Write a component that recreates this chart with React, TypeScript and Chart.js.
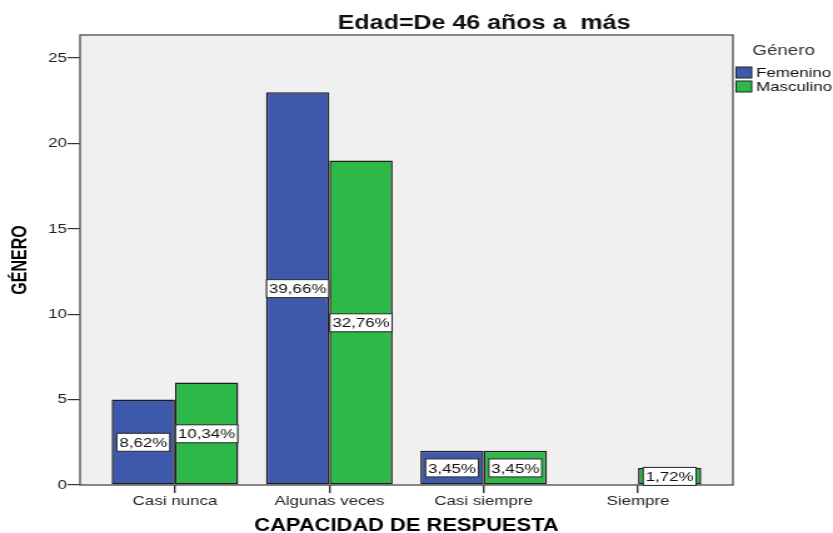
import React, { useEffect, useRef } from "react";
import { Chart, registerables } from "chart.js";

Chart.register(...registerables);

// ---- data ----
const categories = ["Casi nunca", "Algunas veces", "Casi siempre", "Siempre"];
const seriesNames = ["Femenino", "Masculino"];
const femenino = [5, 23, 2, 0];
const masculino = [6, 19, 2, 1];
const yTickValues = [0, 5, 10, 15, 20, 25];
const chartTitle = "Edad=De 46 años a  más";
const xTitle = "CAPACIDAD DE RESPUESTA";
const yTitle = "GÉNERO";
const legendTitle = "Género";

const seriesColors = ["#3e58ac", "#2eb848"];
const FONT = "'Liberation Sans', Arial, Helvetica, sans-serif";

const total = [...femenino, ...masculino].reduce((a, b) => a + b, 0);
const pctLabel = (v: number) => ((v / total) * 100).toFixed(2).replace(".", ",") + "%";

// canvas is drawn narrower and stretched horizontally, like the reference
const CANVAS_W = 666;
const CANVAS_H = 533;

const framePlugin = {
  id: "frame",
  beforeDraw(chart: any) {
    const { ctx, chartArea: a } = chart;
    ctx.save();
    ctx.fillStyle = "#f0f0f0";
    ctx.fillRect(a.left, a.top, a.right - a.left, a.bottom - a.top);
    ctx.restore();
  },
  afterDatasetsDraw(chart: any) {
    const { ctx, chartArea: a, scales } = chart;
    ctx.save();
    ctx.strokeStyle = "#555";
    ctx.lineWidth = 1.4;
    ctx.strokeRect(a.left, a.top, a.right - a.left, a.bottom - a.top);
    ctx.restore();

    // percentage labels
    const y = scales.y;
    ctx.save();
    ctx.font = `13.5px ${FONT}`;
    ctx.textAlign = "center";
    ctx.textBaseline = "middle";
    chart.data.datasets.forEach((ds: any, di: number) => {
      const meta = chart.getDatasetMeta(di);
      meta.data.forEach((el: any, i: number) => {
        const v = ds.data[i].y;
        if (!v) return;
        const txt = pctLabel(v);
        const cy = y.getPixelForValue(v / 2);
        const tw = ctx.measureText(txt).width;
        const w = tw + 4;
        const h = 18;
        ctx.fillStyle = "#ffffff";
        ctx.fillRect(el.x - w / 2, cy - h / 2, w, h);
        ctx.strokeStyle = "#333";
        ctx.lineWidth = 1.1;
        ctx.strokeRect(el.x - w / 2, cy - h / 2, w, h);
        ctx.fillStyle = "#111";
        ctx.fillText(txt, el.x, cy + 1);
      });
    });
    ctx.restore();
  },
  afterDraw(chart: any) {
    const { ctx, chartArea: a } = chart;
    ctx.save();
    // main title
    ctx.fillStyle = "#111";
    ctx.font = `bold 20px ${FONT}`;
    ctx.textAlign = "center";
    ctx.textBaseline = "middle";
    ctx.fillText(chartTitle, (a.left + a.right) / 2 + 62, 23);

    // legend
    const lx = a.right + 2.5;
    ctx.textAlign = "left";
    ctx.font = `15px ${FONT}`;
    ctx.fillStyle = "#333";
    ctx.fillText(legendTitle, lx + 13, 51);
    ctx.font = `13.5px ${FONT}`;
    chart.data.datasets.forEach((ds: any, i: number) => {
      const cy = 72.5 + i * 14;
      ctx.fillStyle = ds.backgroundColor;
      ctx.fillRect(lx, cy - 5.5, 12.5, 11);
      ctx.strokeStyle = "#222";
      ctx.lineWidth = 1;
      ctx.strokeRect(lx, cy - 5.5, 12.5, 11);
      ctx.fillStyle = "#111";
      ctx.fillText(ds.label, lx + 16, cy + 1);
    });
    ctx.restore();
  },
};

export default function App() {
  const ref = useRef<HTMLCanvasElement | null>(null);

  useEffect(() => {
    if (!ref.current) return;
    Chart.defaults.font.family = FONT;
    const seriesData = [femenino, masculino];
    const chart = new Chart(ref.current, {
      type: "bar",
      data: {
        datasets: seriesNames.map((name, si) => ({
          label: name,
          data: seriesData[si].map((v, i) => ({ x: i, y: v })),
          backgroundColor: seriesColors[si],
          borderColor: "#1e1e1e",
          borderWidth: 1.5,
          borderSkipped: false,
          categoryPercentage: 0.82,
          barPercentage: 1,
        })),
      },
      options: {
        animation: false,
        responsive: false,
        devicePixelRatio: 1,
        layout: { padding: { top: 35, right: 80, left: 0, bottom: 0 } },
        plugins: {
          legend: { display: false },
          title: { display: false },
          tooltip: { enabled: false },
        },
        scales: {
          x: {
            type: "linear",
            offset: false,
            min: -0.615,
            max: 3.615,
            afterBuildTicks: (scale: any) => {
              scale.ticks = categories.map((_, i) => ({ value: i }));
            },
            afterFit: (scale: any) => {
              scale.height = 48;
            },
            grid: {
              display: true,
              offset: false,
              drawOnChartArea: false,
              drawTicks: true,
              tickLength: 8,
              color: "#333",
              lineWidth: 1.4,
            },
            border: { display: false },
            ticks: {
              autoSkip: false,
              maxRotation: 0,
              padding: 2,
              color: "#222",
              font: { size: 13.5, lineHeight: 1 },
              callback: (v: any) => categories[v as number] ?? "",
            },
            title: {
              display: true,
              text: xTitle,
              color: "#000",
              font: { size: 17.5, weight: "bold", lineHeight: 1 },
              padding: { top: 0, bottom: -2 },
            },
          },
          y: {
            min: 0,
            max: 26.35,
            afterBuildTicks: (scale: any) => {
              scale.ticks = yTickValues.map((v) => ({ value: v }));
            },
            afterFit: (scale: any) => {
              scale.width = 64;
            },
            grid: {
              display: true,
              drawOnChartArea: false,
              drawTicks: true,
              tickLength: 10,
              color: "#333",
              lineWidth: 1.2,
            },
            border: { display: false },
            ticks: {
              padding: 0.5,
              color: "#222",
              font: { size: 13.5 },
            },
            title: {
              display: true,
              text: yTitle,
              color: "#000",
              font: { size: 16, weight: "bold", lineHeight: 1 },
              padding: { top: 9, bottom: 0 },
            },
          },
        },
      },
      plugins: [framePlugin],
    } as any);
    return () => chart.destroy();
  }, []);

  return (
    <canvas
      ref={ref}
      width={CANVAS_W}
      height={CANVAS_H}
      style={{ position: "absolute", left: 0, top: 0, width: "833px", height: "533px", display: "block" }}
    />
  );
}
